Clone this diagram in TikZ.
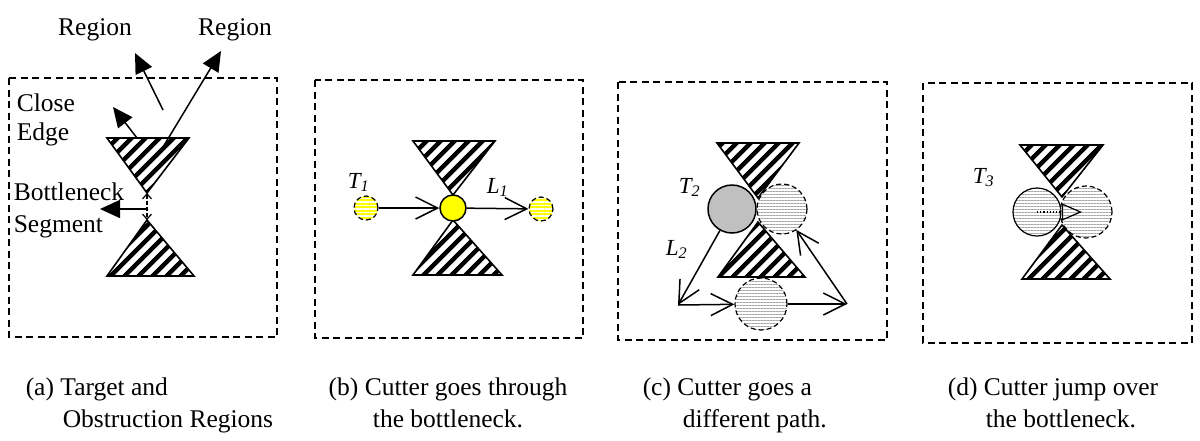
\documentclass[tikz,border=0pt]{standalone}
\usepackage{fontspec}
\setmainfont{Liberation Serif}
\usetikzlibrary{arrows.meta,patterns.meta}
\definecolor{cutgray}{RGB}{192,192,192}
\definecolor{cutyellow}{RGB}{255,255,0}

\begin{document}
\begin{tikzpicture}[x=1pt,y=-1pt,line width=1.5pt,
  panel/.style={line width=1.6pt,dash pattern=on 7pt off 4.5pt},
  wedge/.style={line width=1.6pt,pattern={Lines[angle=45,distance=10.5pt,line width=5pt]}},
  txt/.style={font=\fontsize{25.5}{31}\selectfont,inner sep=0pt,anchor=base west},
  sym/.style={font=\fontsize{23}{25}\selectfont\itshape,inner sep=0pt,anchor=base west},
  bigtip/.style={-{Triangle[length=20pt,width=18pt]}},
  vtip/.style={-{Straight Barb[length=22pt,width=22pt]}},
  ghost/.style={circle,draw,line width=1.2pt,dash pattern=on 5pt off 3pt,inner sep=0pt},
  striped/.style={pattern={Lines[angle=0,distance=3pt,line width=0.6pt]},pattern color=gray!70}]
\useasboundingbox (0,0) rectangle (1200,440);

% (a) regions
\draw[panel] (9,78) rectangle (277,337);
\draw[wedge] (107,138) -- (189,138) -- (147,193) -- cycle;
\draw[wedge] (147,220) -- (194,276) -- (107,276) -- cycle;
\node[txt,anchor=base] (tgt) at (95,35) {Region};
\node[txt,anchor=base] (obs) at (235,35) {Region};
\node[txt] (close1) at (16,111) {Close};
\node[txt] (close2) at (16,140) {Edge};
\node[txt] (neck1) at (13,200) {Bottleneck};
\node[txt] (neck2) at (13,232) {Segment};
\coordinate (neckA) at (147,193);
\coordinate (neckB) at (147,220);
\coordinate (neckM) at (147,209);
\coordinate (neckP) at (100,209);
\coordinate (edgeA) at (137,138);
\coordinate (edgeP) at (113,107);
\coordinate (tgtA) at (163,110);
\coordinate (tgtP) at (135,53);
\coordinate (obsA) at (157,157);
\coordinate (obsP) at (221,51);
\draw[line width=1.2pt,dash pattern=on 4pt off 2pt,
  {Straight Barb[length=5pt,width=9pt]}-{Straight Barb[length=5pt,width=9pt]}] (neckA) -- (neckB);
\draw[bigtip] (neckM) -- (neckP);
\draw[bigtip] (edgeA) -- (edgeP);
\draw[bigtip] (tgtA) -- (tgtP);
\draw[bigtip] (obsA) -- (obsP);

% (b) through the bottleneck
\draw[panel] (315,80) rectangle (583,338);
\draw[wedge] (413,141) -- (495,141) -- (453,195) -- cycle;
\draw[wedge] (453,220) -- (502,275) -- (413,275) -- cycle;
\node[circle,draw,fill=cutyellow,minimum size=26pt,inner sep=0pt] (cutB) at (453,208) {};
\node[ghost,minimum size=24pt,preaction={fill=cutyellow},
  pattern={Lines[angle=0,distance=3.5pt,line width=1.2pt]},pattern color=white] (startB) at (366,208) {};
\node[ghost,minimum size=24pt,preaction={fill=cutyellow},
  pattern={Lines[angle=0,distance=3.5pt,line width=1.2pt]},pattern color=white] (endB) at (541,209) {};
\draw[vtip] (startB) -- (cutB);
\draw[vtip] (cutB) -- (endB);
\node[sym] (tB) at (347,188) {T\textsubscript{1}};
\node[sym] (lB) at (486,193) {L\textsubscript{1}};

% (c) a different path
\draw[panel] (618,82) rectangle (887,340);
\draw[wedge] (717,143) -- (799,143) -- (758,198) -- cycle;
\draw[wedge] (758,222) -- (805,277) -- (718,277) -- cycle;
\node[circle,draw,fill=cutgray,minimum size=48pt,inner sep=0pt] (cutC) at (732,209) {};
\node[ghost,striped,minimum size=50pt,preaction={fill=white}] (skipC) at (782,209) {};
\node[ghost,striped,minimum size=52pt,preaction={fill=white}] (lowC) at (761,304) {};
\coordinate (cornL) at (678,305);
\coordinate (cornR) at (847,304);
\draw[vtip] (cutC) -- (cornL);
\draw[vtip] (cornL) -- (lowC);
\draw[vtip] (lowC) -- (cornR);
\draw[vtip] (cornR) -- (skipC);
\node[sym] (tC) at (678,193) {T\textsubscript{2}};
\node[sym] (lC) at (665,255) {L\textsubscript{2}};

% (d) jump over
\draw[panel] (923,83) rectangle (1192,343);
\draw[wedge] (1020,145) -- (1103,145) -- (1062,197) -- cycle;
\draw[wedge] (1062,225) -- (1110,279) -- (1022,279) -- cycle;
\node[circle,draw,striped,line width=1.2pt,minimum size=48pt,inner sep=0pt] (cutD) at (1037,212) {};
\node[ghost,striped,minimum size=52pt] (jumpD) at (1086,212) {};
\draw[dotted,line width=1.2pt,-{Triangle[open,length=20pt,width=17pt]},shorten >=4pt] (cutD.center) -- (jumpD.center);
\node[sym] (tD) at (972,183) {T\textsubscript{3}};

% captions
\node[txt] (capA1) at (25,395) {(a) Target and};
\node[txt] (capA2) at (62,427) {Obstruction Regions};
\node[txt,anchor=base] (capB1) at (448,395) {(b) Cutter goes through};
\node[txt,anchor=base] (capB2) at (448,427) {the bottleneck.};
\node[txt] (capC1) at (642,395) {(c) Cutter goes a};
\node[txt] (capC2) at (682,427) {different path.};
\node[txt] (capD1) at (947,395) {(d) Cutter jump over};
\node[txt] (capD2) at (985,427) {the bottleneck.};
\end{tikzpicture}
\end{document}
